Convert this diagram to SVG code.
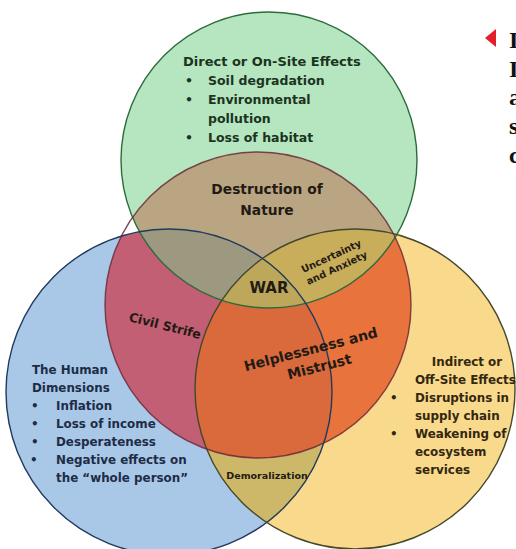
<svg xmlns="http://www.w3.org/2000/svg" width="516" height="549" viewBox="0 0 516 549">
<style>
  .t { font-family: "DejaVu Sans", "Liberation Sans", sans-serif; font-weight: bold; }
  .g { fill: #1c3322; }
  .b { fill: #1d2c47; }
  .y { fill: #33270f; }
  .k { fill: #231a14; }
  .ser { font-family: "Liberation Serif", "Times New Roman", serif; font-weight: bold; fill: #111; font-size: 24px; }
  .ring { fill: none; stroke-width: 1.4; }
</style>
<defs>
  <clipPath id="clipG"><circle cx="269" cy="160" r="148"/></clipPath>
  <clipPath id="clipB"><circle cx="169" cy="392" r="163"/></clipPath>
  <clipPath id="clipY"><circle cx="355" cy="389" r="160"/></clipPath>
</defs>
<rect width="516" height="549" fill="#ffffff"/>

<g id="circle-direct-effects">
  <circle cx="269" cy="160" r="148" fill="#b5e6bf"/>
</g>
<g id="circle-human-dimensions">
  <circle cx="169" cy="392" r="163" fill="#a9c7e6"/>
</g>
<g id="circle-indirect-effects">
  <circle cx="355" cy="389" r="160" fill="#f9d98c"/>
</g>

<g id="overlap-regions">
  <g clip-path="url(#clipB)"><circle cx="355" cy="389" r="160" fill="#cdb86a"/></g>
  <g clip-path="url(#clipB)"><circle cx="258" cy="305" r="153" fill="#c25f74"/></g>
  <g clip-path="url(#clipY)"><circle cx="258" cy="305" r="153" fill="#e8733c"/></g>
  <g clip-path="url(#clipB)"><g clip-path="url(#clipY)"><circle cx="258" cy="305" r="153" fill="#da6a3c"/></g></g>
  <g clip-path="url(#clipG)"><circle cx="258" cy="305" r="153" fill="#b9a582"/></g>
  <g clip-path="url(#clipG)"><g clip-path="url(#clipB)"><circle cx="258" cy="305" r="153" fill="#9d9980"/></g></g>
  <g clip-path="url(#clipG)"><g clip-path="url(#clipY)"><circle cx="258" cy="305" r="153" fill="#c8ae5a"/></g></g>
  <g clip-path="url(#clipG)"><g clip-path="url(#clipB)"><g clip-path="url(#clipY)"><circle cx="258" cy="305" r="153" fill="#bca75a"/></g></g></g>
</g>

<g id="outlines">
  <circle class="ring" cx="269" cy="160" r="148" stroke="#2d6b3c"/>
  <circle class="ring" cx="169" cy="392" r="163" stroke="#203a5e"/>
  <circle class="ring" cx="355" cy="389" r="160" stroke="#45472a"/>
  <circle class="ring" cx="258" cy="305" r="153" stroke="#6b2a3a" stroke-opacity="0.85"/>
</g>

<g id="label-direct" class="t g">
  <text x="183" y="66" font-size="13">Direct or On-Site Effects</text>
  <text x="185" y="85" font-size="12.5">•</text>
  <text x="208" y="85" font-size="12.5">Soil degradation</text>
  <text x="185" y="104" font-size="12.5">•</text>
  <text x="208" y="104" font-size="12.5">Environmental</text>
  <text x="208" y="123" font-size="12.5">pollution</text>
  <text x="185" y="142" font-size="12.5">•</text>
  <text x="208" y="142" font-size="12.5">Loss of habitat</text>
</g>

<g id="label-destruction" class="t k" text-anchor="middle" font-size="13.8">
  <text x="267" y="194">Destruction of</text>
  <text x="267" y="215">Nature</text>
</g>

<g id="label-war" class="t k">
  <text x="269" y="293" font-size="15" text-anchor="middle">WAR</text>
</g>

<g id="label-uncertainty" class="t k" font-size="9.8" text-anchor="middle" transform="translate(334,262) rotate(-25)">
  <text x="0" y="-3">Uncertainty</text>
  <text x="0" y="10">and Anxiety</text>
</g>

<g id="label-civil-strife" class="t k" transform="translate(164,330) rotate(14)">
  <text x="0" y="0" font-size="12.5" text-anchor="middle">Civil Strife</text>
</g>

<g id="label-helplessness" class="t k" font-size="14" text-anchor="middle" transform="translate(312,354) rotate(-14.5)">
  <text x="0" y="0">Helplessness and</text>
  <text x="4" y="19">Mistrust</text>
</g>

<g id="label-demoralization" class="t k">
  <text x="267" y="479" font-size="9.5" text-anchor="middle">Demoralization</text>
</g>

<g id="label-human" class="t b" font-size="11.9">
  <text x="32" y="374">The Human</text>
  <text x="32" y="392">Dimensions</text>
  <text x="31" y="410">•</text>
  <text x="56" y="410">Inflation</text>
  <text x="31" y="428">•</text>
  <text x="56" y="428">Loss of income</text>
  <text x="31" y="446">•</text>
  <text x="56" y="446">Desperateness</text>
  <text x="30" y="464">•</text>
  <text x="56" y="464">Negative effects on</text>
  <text x="56" y="482">the “whole person”</text>
</g>

<g id="label-indirect" class="t y" font-size="11.9">
  <text x="467" y="366" text-anchor="middle">Indirect or</text>
  <text x="415" y="384">Off-Site Effects</text>
  <text x="390" y="402">•</text>
  <text x="415" y="402">Disruptions in</text>
  <text x="415" y="420">supply chain</text>
  <text x="390" y="438">•</text>
  <text x="415" y="438">Weakening of</text>
  <text x="415" y="456">ecosystem</text>
  <text x="415" y="474">services</text>
</g>

<g id="side-note">
  <polygon points="485,38 496,29 496,47" fill="#e3202a"/>
  <text class="ser" x="509" y="48">I</text>
  <text class="ser" x="509" y="77">I</text>
  <text class="ser" x="509" y="105">a</text>
  <text class="ser" x="509" y="134">s</text>
  <text class="ser" x="509" y="163">c</text>
</g>
</svg>
